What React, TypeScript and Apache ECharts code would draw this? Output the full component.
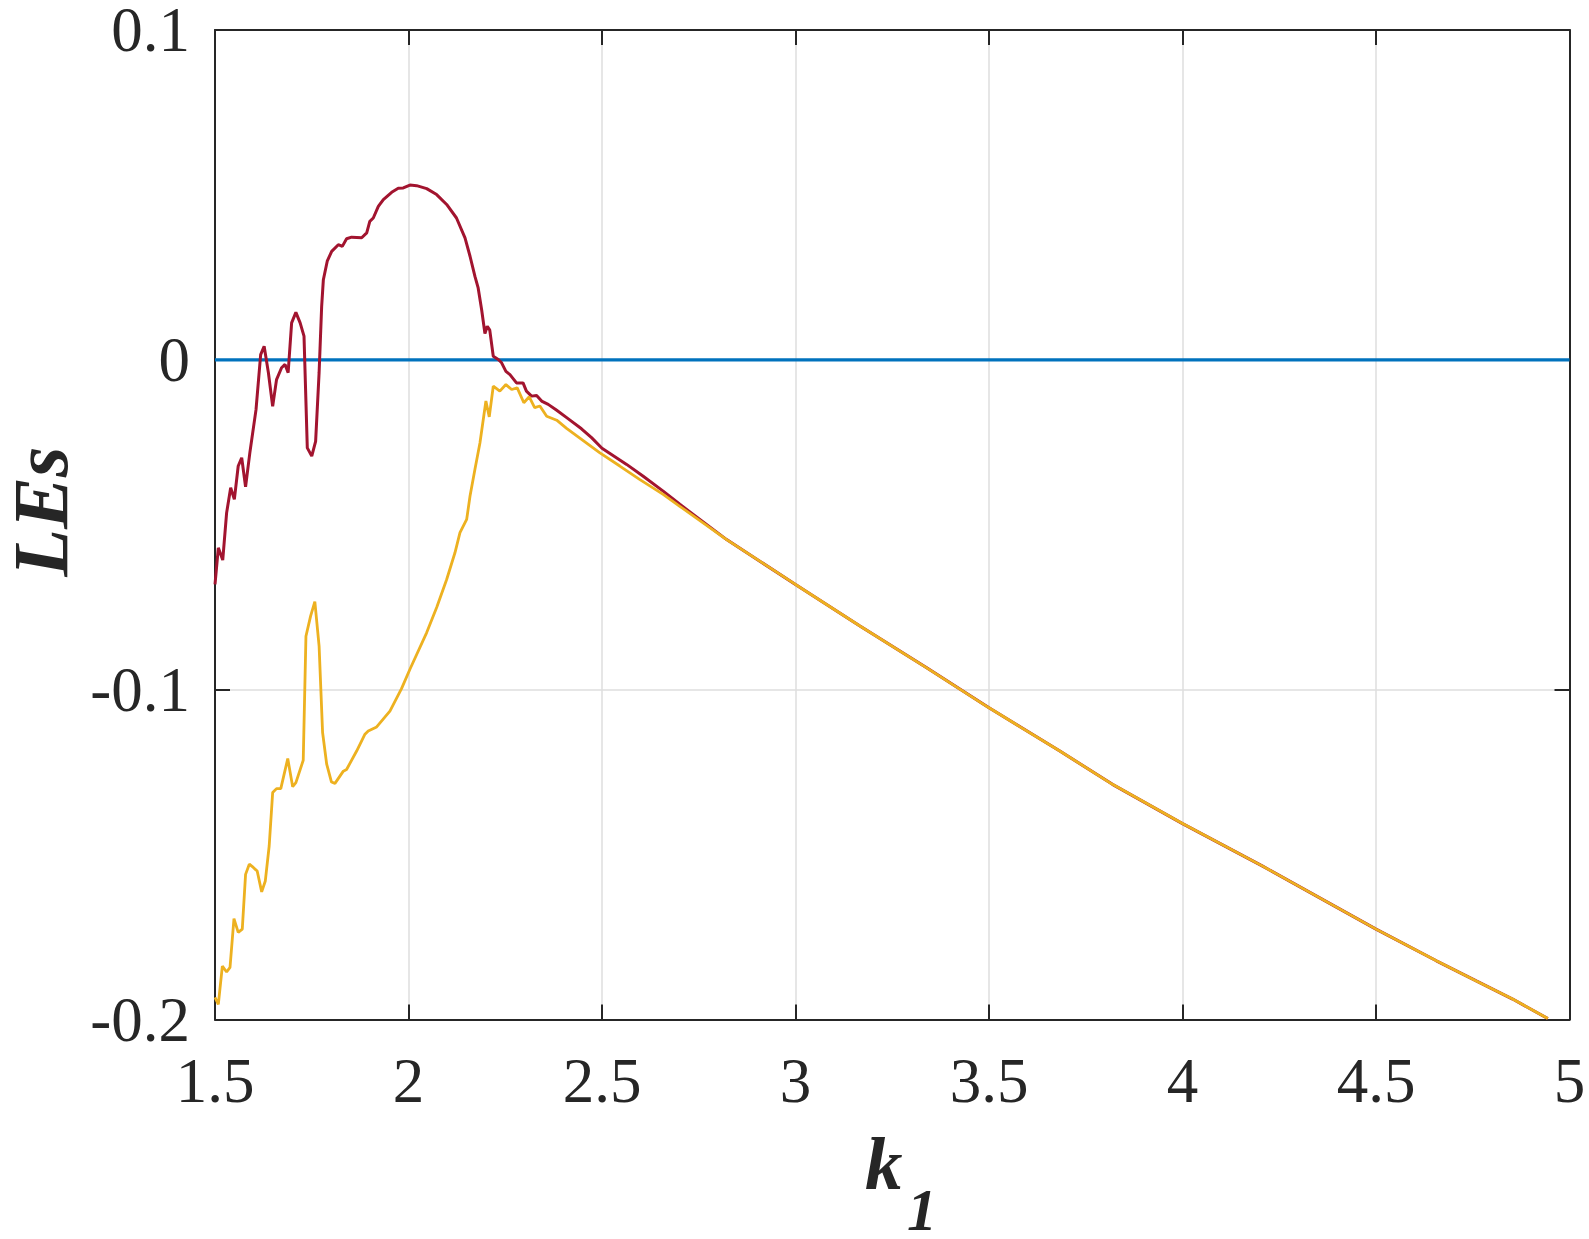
import React, { useEffect, useRef } from "react";
import * as echarts from "echarts";

// ---- data ----
const k1Zero = [1.5, 5];
const lesZero = [0, 0];

const k1Red = [
  1.5, 1.5086, 1.52, 1.53, 1.5405, 1.55, 1.56, 1.569, 1.579, 1.59, 1.606, 1.618, 1.627, 1.638, 1.649,
  1.659, 1.672, 1.681, 1.689, 1.698, 1.709, 1.72, 1.73, 1.7385, 1.75, 1.76, 1.769, 1.7756, 1.78, 1.79,
  1.8015, 1.8186, 1.829, 1.84, 1.853, 1.879, 1.892, 1.9, 1.909, 1.922, 1.935, 1.9565, 1.9735, 1.9865,
  2.0037, 2.021, 2.047, 2.0727, 2.0986, 2.124, 2.146, 2.159, 2.1717, 2.18, 2.189, 2.1975, 2.2035, 2.21,
  2.219, 2.232, 2.2406, 2.2517, 2.2622, 2.279, 2.296, 2.3047, 2.318, 2.331, 2.344, 2.361, 2.383, 2.413,
  2.447, 2.473, 2.5, 2.5636, 2.6065, 2.658, 2.701,
];
const lesRed = [
  -0.0681, -0.057, -0.0607, -0.0464, -0.0388, -0.0423, -0.0322, -0.0297, -0.0385, -0.0282, -0.0151,
  0.0016, 0.0041, -0.0039, -0.0141, -0.006, -0.0024, -0.0014, -0.0039, 0.0112, 0.0144, 0.0112, 0.0072,
  -0.0267, -0.0292, -0.0247, -0.0039, 0.0162, 0.0243, 0.0299, 0.0329, 0.0349, 0.0344, 0.0367, 0.0372,
  0.037, 0.0385, 0.042, 0.043, 0.0465, 0.0486, 0.0508, 0.052, 0.0521, 0.053, 0.0528, 0.0519, 0.0501,
  0.0471, 0.043, 0.037, 0.0314, 0.0253, 0.0218, 0.0152, 0.008, 0.0102, 0.009, 0.0011, 0.0001, -0.0009,
  -0.0035, -0.0045, -0.007, -0.007, -0.0095, -0.011, -0.0108, -0.0125, -0.0135, -0.0153, -0.0179,
  -0.0209, -0.0236, -0.0268, -0.0317, -0.0353, -0.0398, -0.0438,
];

const k1Yellow = [
  1.5, 1.5086, 1.519, 1.53, 1.5388, 1.549, 1.56, 1.5705, 1.579, 1.5886, 1.599, 1.609, 1.6206, 1.63,
  1.64, 1.649, 1.659, 1.67, 1.688, 1.7007, 1.709, 1.728, 1.735, 1.747, 1.758, 1.769, 1.778, 1.7886,
  1.801, 1.81, 1.8316, 1.84, 1.866, 1.8875, 1.896, 1.9177, 1.952, 1.982, 2.0037, 2.047, 2.073, 2.0986,
  2.12, 2.133, 2.1503, 2.159, 2.1717, 2.1846, 2.2, 2.2087, 2.219, 2.236, 2.2517, 2.2665, 2.281, 2.298,
  2.312, 2.326, 2.3395, 2.357, 2.383, 2.4085, 2.4515, 2.4946, 2.546, 2.598, 2.658, 2.701,
];
const lesYellow = [
  -0.1933, -0.1954, -0.1838, -0.1856, -0.1842, -0.1694, -0.1736, -0.1726, -0.156, -0.1529, -0.1539,
  -0.155, -0.1613, -0.158, -0.1474, -0.1312, -0.13, -0.13, -0.1209, -0.1294, -0.1282, -0.1214, -0.0838,
  -0.0777, -0.0733, -0.0868, -0.113, -0.1226, -0.128, -0.1284, -0.1247, -0.1242, -0.1186, -0.1135,
  -0.1125, -0.1113, -0.1065, -0.0997, -0.0938, -0.0827, -0.075, -0.0666, -0.0585, -0.0524, -0.0484,
  -0.0413, -0.0332, -0.0252, -0.0125, -0.0173, -0.008, -0.0095, -0.0075, -0.009, -0.0085, -0.013,
  -0.0112, -0.0145, -0.014, -0.0171, -0.0183, -0.0208, -0.0245, -0.0282, -0.0322, -0.0363, -0.0408,
  -0.0444,
];

// common tail (both curves coincide)
const k1Tail = [2.822, 3.0, 3.1665, 3.338, 3.5, 3.683, 3.819, 4.0, 4.207, 4.5, 4.656, 4.759, 4.853, 4.944];
const lesTail = [
  -0.0545, -0.0681, -0.0807, -0.0933, -0.1055, -0.1186, -0.1287, -0.1406, -0.1535, -0.1726, -0.1822,
  -0.1883, -0.1938, -0.1997,
];

const xTicks = { min: 1.5, max: 5, interval: 0.5 };
const yTicks = { min: -0.2, max: 0.1, interval: 0.1 };

const zip = (xs: number[], ys: number[]) => xs.map((x, i) => [x, ys[i]]);

const FONT = "'Liberation Serif', 'Times New Roman', serif";
const INK = "#262626";

export default function App() {
  const ref = useRef<HTMLDivElement>(null);

  useEffect(() => {
    if (!ref.current) return;
    const chart = echarts.init(ref.current, null, { renderer: "svg" });

    const axisLine = { show: true, onZero: false, lineStyle: { color: INK, width: 2 } };
    const axisTick = { show: true, inside: true, length: 15, lineStyle: { color: INK, width: 2 } };
    const labelStyle = { fontFamily: FONT, fontSize: 63, color: INK, lineHeight: 46 };
    const split = { show: true, lineStyle: { color: "#dedede", width: 1.5 } };

    chart.setOption({
      animation: false,
      backgroundColor: "#ffffff",
      grid: {
        left: 215,
        top: 30,
        right: 19.5,
        bottom: 219.5,
        containLabel: false,
        outerBoundsMode: "none",
      },
      xAxis: [
        {
          type: "value",
          position: "bottom",
          ...xTicks,
          axisLine,
          axisTick,
          axisLabel: { ...labelStyle, margin: 38 },
          splitLine: split,
        },
        {
          type: "value",
          position: "top",
          ...xTicks,
          axisLine,
          axisTick,
          axisLabel: { show: false },
          splitLine: { show: false },
        },
      ],
      yAxis: [
        {
          type: "value",
          position: "left",
          ...yTicks,
          axisLine,
          axisTick,
          axisLabel: { ...labelStyle, margin: 25 },
          splitLine: split,
          name: "LEs",
          nameLocation: "middle",
          nameRotate: 90,
          nameGap: 142,
          nameTextStyle: {
            fontFamily: FONT,
            fontSize: 78,
            fontStyle: "italic",
            fontWeight: "bold",
            color: INK,
            lineHeight: 60,
            padding: [0, 0, 0, 26],
          },
        },
        {
          type: "value",
          position: "right",
          ...yTicks,
          axisLine,
          axisTick,
          axisLabel: { show: false },
          splitLine: { show: false },
        },
      ],
      graphic: [
        {
          type: "text",
          style: {
            x: 865,
            y: 1163,
            text: "k",
            font: `italic bold 75px ${FONT}`,
            fill: INK,
            align: "left",
            verticalAlign: "middle",
            lineHeight: 56,
          },
        },
        {
          type: "text",
          style: {
            x: 907,
            y: 1210,
            text: "1",
            font: `italic bold 60px ${FONT}`,
            fill: INK,
            align: "left",
            verticalAlign: "middle",
            lineHeight: 40,
          },
        },
      ],
      series: [
        {
          type: "line",
          data: zip(k1Zero, lesZero),
          showSymbol: false,
          lineStyle: { color: "#0072BD", width: 3.2 },
          z: 2,
        },
        {
          type: "line",
          data: zip(k1Red, lesRed).concat(zip(k1Tail, lesTail)),
          showSymbol: false,
          lineStyle: { color: "#A2142F", width: 3 },
          z: 3,
        },
        {
          type: "line",
          data: zip(k1Yellow, lesYellow).concat(zip(k1Tail, lesTail)),
          showSymbol: false,
          lineStyle: { color: "#EDB120", width: 2.8 },
          z: 4,
        },
      ],
    });

    return () => chart.dispose();
  }, []);

  return (
    <div
      ref={ref}
      style={{ position: "fixed", left: 0, top: 0, width: 1589, height: 1239, background: "#fff" }}
    />
  );
}
